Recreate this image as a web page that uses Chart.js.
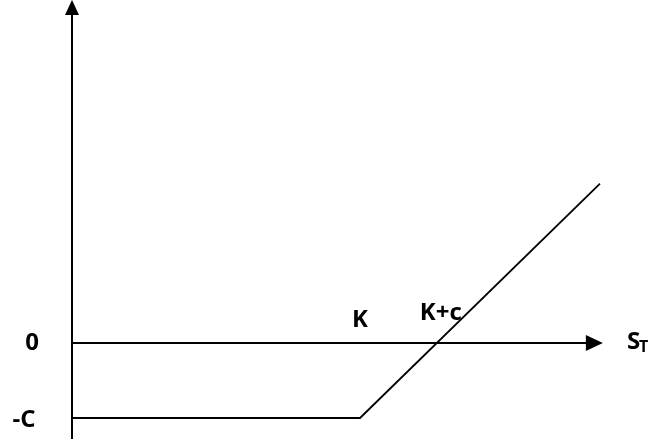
<!DOCTYPE html>
<html>
<head>
<meta charset="utf-8">
<script src="https://cdn.jsdelivr.net/npm/chart.js@4/dist/chart.umd.min.js"></script>
<style>
  html, body { margin: 0; padding: 0; background: #fff; }
  #wrap { width: 665px; height: 439px; position: relative; }
</style>
</head>
<body>
<div id="wrap"><canvas id="myChart"></canvas></div>
<script>
// long call payoff diagram (profit at expiry)
const strike = 30;
const premium = 8;
const priceX = [0, 30, 55];
const profitY = [-8, -8, 17];
const axisEndX = 55.3;
const axisTopY = 36.6;
const axisBottomY = -10.3;
const tickLabels = { zero: "0", premium: "-C", strike: "K", breakEven: "K+c", price: "S", priceSub: "T" };

const payoffPoints = priceX.map((x, i) => ({ x: x, y: profitY[i] }));

const labelFont = "bold 24px 'Open Sans', sans-serif";
const subFont = "bold 16px 'Open Sans', sans-serif";

const diagramPlugin = {
  id: "diagram",
  afterDatasetsDraw(chart) {
    const ctx = chart.ctx;
    const xs = chart.scales.x;
    const ys = chart.scales.y;
    const px = (v) => xs.getPixelForValue(v);
    const py = (v) => ys.getPixelForValue(v);

    ctx.save();
    ctx.fillStyle = "#000";

    // arrow heads
    let tipX = px(axisEndX), tipY = py(0);
    ctx.beginPath();
    ctx.moveTo(tipX, tipY);
    ctx.lineTo(tipX - 17, tipY - 8);
    ctx.lineTo(tipX - 17, tipY + 8);
    ctx.closePath();
    ctx.fill();

    tipX = px(0); tipY = py(axisTopY);
    ctx.beginPath();
    ctx.moveTo(tipX, tipY);
    ctx.lineTo(tipX - 7, tipY + 15);
    ctx.lineTo(tipX + 7, tipY + 15);
    ctx.closePath();
    ctx.fill();

    // labels
    ctx.font = labelFont;
    ctx.textBaseline = "middle";
    ctx.textAlign = "center";
    ctx.fillText(tickLabels.zero, px(0) - 40, py(0));
    ctx.fillText(tickLabels.premium, px(0) - 48, py(-premium) + 2);
    ctx.fillText(tickLabels.strike, px(strike), py(0) - 23);
    ctx.fillText(tickLabels.breakEven, px(strike + premium) + 4, py(0) - 30);

    ctx.textAlign = "left";
    const sx = px(axisEndX) + 24;
    ctx.fillText(tickLabels.price, sx, py(0) - 1);
    const sw = ctx.measureText(tickLabels.price).width;
    ctx.font = subFont;
    ctx.fillText(tickLabels.priceSub, sx + sw - 1, py(0) + 4);
    ctx.restore();
  }
};

const config = {
  type: "scatter",
  data: {
    datasets: [
      {
        label: "x axis",
        data: [{ x: 0, y: 0 }, { x: axisEndX - 1, y: 0 }],
        showLine: true,
        borderColor: "#000",
        borderWidth: 2,
        pointRadius: 0,
      },
      {
        label: "y axis",
        data: [{ x: 0, y: axisBottomY }, { x: 0, y: axisTopY - 1 }],
        showLine: true,
        borderColor: "#000",
        borderWidth: 2,
        pointRadius: 0,
      },
      {
        label: "payoff",
        data: payoffPoints,
        showLine: true,
        borderColor: "#000",
        borderWidth: 1.8,
        pointRadius: 0,
      },
    ],
  },
  options: {
    responsive: true,
    maintainAspectRatio: false,
    animation: false,
    layout: { padding: 0 },
    plugins: { legend: { display: false }, tooltip: { enabled: false } },
    scales: {
      x: { type: "linear", display: false, min: -7.5, max: 61.77 },
      y: { type: "linear", display: false, min: -10.24, max: 36.59 },
    },
  },
  plugins: [diagramPlugin],
};

new Chart(document.getElementById("myChart"), config);
</script>
</body>
</html>
